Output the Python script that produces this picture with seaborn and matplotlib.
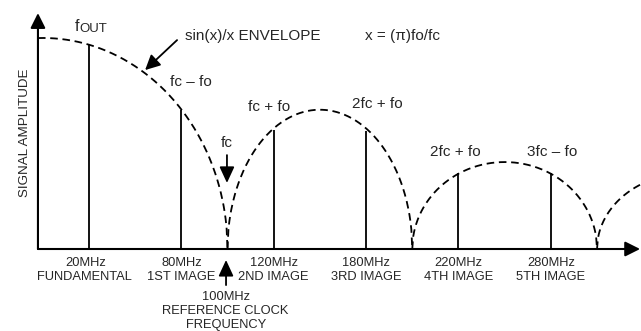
import numpy as np
import pandas as pd
import matplotlib
matplotlib.use("Agg")
import matplotlib.pyplot as plt
import seaborn as sns

# ---- data (schematic units: position along frequency axis, normalized amplitude) ----
lobe_start = [0, 100, 200, 300]
lobe_end = [100, 200, 300, 400]
lobe_peak = [1.0, 0.66, 0.412, 0.36]

image_pos = [25, 75, 125, 175, 225, 275]
image_amp = [0.972, 0.66, 0.566, 0.56, 0.362, 0.362]
image_freq = ["20MHz", "80MHz", "120MHz", "180MHz", "220MHz", "280MHz"]
image_name = ["FUNDAMENTAL", "1ST IMAGE", "2ND IMAGE", "3RD IMAGE", "4TH IMAGE", "5TH IMAGE"]

clock_pos = 100
clock_label = "100MHz\nREFERENCE CLOCK\nFREQUENCY"

# ---- envelope table (sin(x)/x envelope drawn as arches between zeros) ----
rows = []
x_axis = -2.6
for i, (s, e, p) in enumerate(zip(lobe_start, lobe_end, lobe_peak)):
    if i == 0:
        xs = np.linspace(x_axis, e, 200)
        u = xs / (e - s)
    else:
        xs = np.linspace(s, e, 200)
        c = (s + e) / 2
        u = (xs - c) / ((e - s) / 2)
    ys = p * np.sqrt(np.clip(1 - u ** 2, 0, None))
    for xv, yv in zip(xs, ys):
        rows.append({"x": xv, "amp": yv, "lobe": i})
env = pd.DataFrame(rows)

sns.set_theme(style="white")
plt.rcParams["font.family"] = ["Liberation Sans", "DejaVu Sans"]

fig = plt.figure(figsize=(6.41, 3.31), dpi=100)
ax = fig.add_axes([0, 0, 1, 1])
ax.set_axis_off()

# pixel mapping: px = 42.75 + 1.8475*f ; py = 249 - 211*amp
ax.set_xlim(-23.14, 323.8)
ax.set_ylim(-0.3886, 1.180)

sns.lineplot(data=env, x="x", y="amp", units="lobe", estimator=None,
             color="black", lw=1.3, ax=ax, legend=False)
for ln in ax.lines:
    ln.set_dashes((4.2, 2.6))
    ln.set_clip_on(True)

ax.vlines(image_pos, 0, image_amp, color="black", lw=1.3)

# axes with arrows
arrow_kw = dict(arrowstyle="-|>,head_length=0.6,head_width=0.3", lw=1.5,
                color="black", shrinkA=0, shrinkB=0, mutation_scale=15)
ax.annotate("", xy=(x_axis, 1.118), xytext=(x_axis, 0), arrowprops=arrow_kw,
            annotation_clip=False)
ax.annotate("", xy=(323.3, 0), xytext=(x_axis, 0), arrowprops=arrow_kw,
            annotation_clip=False)

# annotations
fs = 11
ax.text(17.5, 1.033, "f", fontsize=11.5, ha="left", va="baseline")
ax.text(19.9, 1.027, "OUT", fontsize=9.5, ha="left", va="baseline")
ax.text(77.0, 1.009, "sin(x)/x ENVELOPE", fontsize=fs, ha="left", va="center")
ax.text(174.4, 1.009, "x = (\u03c0)fo/fc", fontsize=fs, ha="left", va="center")
ax.annotate("", xy=(55.4, 0.848), xytext=(72.7, 0.99), arrowprops=dict(
    arrowstyle="-|>,head_length=0.6,head_width=0.3", lw=1.3, color="black",
    shrinkA=0, shrinkB=0, mutation_scale=15))
ax.text(68.9, 0.791, "fc \u2013 fo", fontsize=fs, ha="left", va="center")
ax.text(111.1, 0.673, "fc + fo", fontsize=fs, ha="left", va="center")
ax.text(99.7, 0.502, "fc", fontsize=fs, ha="center", va="center")
ax.annotate("", xy=(99.7, 0.313), xytext=(99.7, 0.445), arrowprops=dict(
    arrowstyle="-|>,head_length=0.65,head_width=0.3", lw=1.3, color="black",
    shrinkA=0, shrinkB=0, mutation_scale=15))
ax.text(167.4, 0.687, "2fc + fo", fontsize=fs, ha="left", va="center")
ax.text(209.6, 0.46, "2fc + fo", fontsize=fs, ha="left", va="center")
ax.text(262.1, 0.46, "3fc \u2013 fo", fontsize=fs, ha="left", va="center")

# bottom labels
lfs = 9.3
for pos, fq, nm in zip(image_pos, image_freq, image_name):
    ax.text(pos - (2 if pos == 25 else 0), -0.066, fq, fontsize=lfs, ha="center", va="center")
    ax.text(pos - (2.5 if pos == 25 else 0), -0.133, nm, fontsize=lfs, ha="center", va="center")

ax.annotate("", xy=(clock_pos - 0.8, -0.052), xytext=(clock_pos - 0.8, -0.171), arrowprops=dict(
    arrowstyle="-|>,head_length=0.65,head_width=0.3", lw=1.3, color="black",
    shrinkA=0, shrinkB=0, mutation_scale=15), annotation_clip=False)
for k, line in enumerate(clock_label.split("\n")):
    ax.text(clock_pos - 1.0, -0.227 - k * 0.0665, line, fontsize=lfs, ha="center", va="center")

ax.text(-9.6, 0.55, "SIGNAL AMPLITUDE", fontsize=9.6, rotation=90,
        ha="center", va="center")

fig.savefig("out.png", dpi=100)
